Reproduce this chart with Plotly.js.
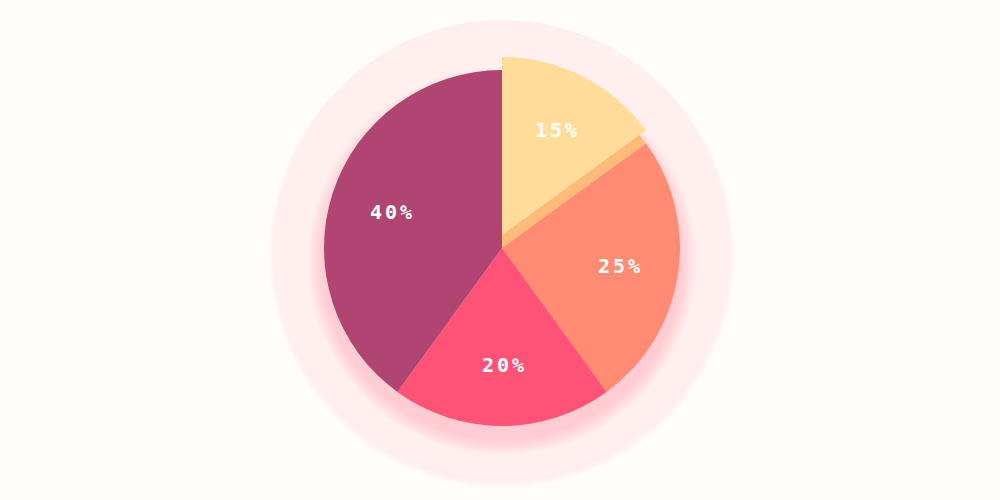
<!DOCTYPE html>
<html>
<head>
<meta charset="utf-8">
<script src="https://cdn.plot.ly/plotly-3.0.1.min.js"></script>
<style>
  html, body { margin: 0; padding: 0; background: #fffdf9; }
  #graph { width: 1000px; height: 500px; }
  .annotation-text { letter-spacing: 3px; }
</style>
</head>
<body>
<div id="graph"></div>
<script>
// slice data, clockwise from 12 o'clock
const labels = ['A', 'B', 'C', 'D'];
const values = [15, 25, 20, 40];
const colors = ['#ffdc99', '#ff8c72', '#ff5277', '#b04572'];
const sideColor = '#fdba78';   // the "thickness" under the raised slice

const W = 1000, H = 500;
const CX = 502, CY = 248, R = 178;   // pie centre / radius in px
const LIFT = 13;                      // how far the first slice is raised

// px circle -> paper-coord shape
function circ(cx, cy, r, fill) {
    return {
        type: 'circle', xref: 'paper', yref: 'paper', layer: 'below',
        x0: (cx - r) / W, x1: (cx + r) / W,
        y0: 1 - (cy + r) / H, y1: 1 - (cy - r) / H,
        fillcolor: fill, line: {width: 0}
    };
}
function domain(cx, cy, r) {
    return {
        x: [(cx - r) / W, (cx + r) / W],
        y: [1 - (cy + r) / H, 1 - (cy - r) / H]
    };
}

const shapes = [];
// faint shadow under the big disc
for (let i = 5; i >= 1; i--) {
    shapes.push(circ(CX, CY + 7, 226 + i * 1.5, 'rgba(240,170,180,0.03)'));
}
shapes.push(circ(CX, CY, 228, '#fff0ef'));
// pink glow, mostly below the pie
for (let i = 8; i >= 1; i--) {
    shapes.push(circ(CX, CY + 13, R + i * 2, 'rgba(255,110,140,0.03)'));
}

// base pie, first slice shows as the side colour
const base = {
    type: 'pie',
    values: values,
    labels: labels,
    sort: false,
    direction: 'clockwise',
    rotation: 0,
    marker: {colors: [sideColor].concat(colors.slice(1)), line: {width: 0}},
    textinfo: 'none',
    hoverinfo: 'none',
    domain: domain(CX, CY, R),
    showlegend: false
};

// raised first slice, rest transparent
const rest = values.slice(1).reduce((a, b) => a + b, 0);
const lifted = {
    type: 'pie',
    values: [values[0], rest],
    labels: [labels[0], 'rest'],
    sort: false,
    direction: 'clockwise',
    rotation: 0,
    marker: {colors: [colors[0], 'rgba(0,0,0,0)'], line: {width: 0}},
    textinfo: 'none',
    hoverinfo: 'none',
    domain: domain(CX, CY - LIFT, R),
    showlegend: false
};

// percent labels at the middle angle of each slice
const total = values.reduce((a, b) => a + b, 0);
const annotations = [];
let acc = 0;
values.forEach((v, i) => {
    const mid = (acc + v / 2) / total * 2 * Math.PI;
    acc += v;
    const cy = i === 0 ? CY - LIFT : CY;
    const d = 0.66 * R;
    annotations.push({
        xref: 'paper', yref: 'paper',
        x: (CX + d * Math.sin(mid)) / W,
        y: 1 - (cy - d * Math.cos(mid)) / H,
        xanchor: 'center', yanchor: 'middle',
        text: Math.round(v / total * 100) + '%',
        showarrow: false,
        xshift: 2,
        font: {family: '"DejaVu Sans Mono", monospace', size: 20, color: '#ffffff', weight: 'bold'}
    });
});

const layout = {
    width: W, height: H,
    margin: {l: 0, r: 0, t: 0, b: 0, pad: 0},
    paper_bgcolor: '#fffdf9',
    plot_bgcolor: '#fffdf9',
    shapes: shapes,
    annotations: annotations,
    showlegend: false
};

Plotly.newPlot('graph', [base, lifted], layout, {displayModeBar: false, staticPlot: true});
</script>
</body>
</html>
